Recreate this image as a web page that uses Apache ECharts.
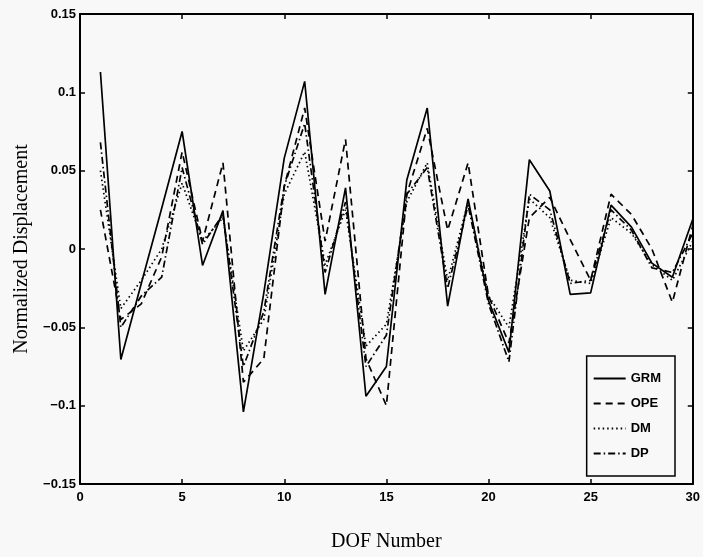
<!DOCTYPE html>
<html>
<head>
<meta charset="utf-8">
<script src="https://cdn.jsdelivr.net/npm/echarts@6/dist/echarts.min.js"></script>
<style>
html,body{margin:0;padding:0;background:#f8f8f8;}
#chart{width:703px;height:557px;}
</style>
</head>
<body>
<div id="chart"></div>
<script>
const dof = [1,2,3,4,5,6,7,8,9,10,11,12,13,14,15,16,17,18,19,20,21,22,23,24,25,26,27,28,29,30];
const grm = [0.113,-0.0705,-0.022,0.026,0.075,-0.0105,0.0245,-0.104,-0.028,0.058,0.107,-0.029,0.039,-0.094,-0.075,0.044,0.090,-0.0365,0.032,-0.033,-0.066,0.057,0.037,-0.029,-0.028,0.028,0.014,-0.009,-0.018,0.019];
const ope = [0.025,-0.045,-0.035,-0.005,0.062,0.005,0.055,-0.085,-0.07,0.04,0.09,0.005,0.070,-0.07,-0.1,0.035,0.077,0.012,0.055,-0.03,-0.06,0.02,0.033,0.006,-0.02,0.035,0.022,0.0,-0.034,0.015];
const dm  = [0.05,-0.038,-0.02,0.0,0.042,0.005,0.02,-0.065,-0.045,0.035,0.062,-0.01,0.025,-0.062,-0.048,0.03,0.055,-0.02,0.03,-0.03,-0.05,0.032,0.02,-0.02,-0.022,0.02,0.01,-0.01,-0.02,0.005];
const dp  = [0.068,-0.05,-0.03,-0.018,0.052,0.003,0.022,-0.075,-0.04,0.04,0.08,-0.015,0.03,-0.075,-0.055,0.035,0.052,-0.025,0.028,-0.035,-0.072,0.035,0.025,-0.022,-0.02,0.025,0.012,-0.012,-0.015,0.01];
const seriesNames = ['GRM','OPE','DM','DP'];
const xTickLabels = ['0','5','10','15','20','25','30'];
const yTickLabels = ['-0.15','-0.1','-0.05','0','0.05','0.1','0.15'];

const pair = arr => dof.map((d,i)=>[d,arr[i]]);
const tickFont = {fontFamily:'Liberation Sans, Arial, sans-serif', fontWeight:'bold', fontSize:13, color:'#000'};
const titleFont = {fontFamily:'Liberation Serif, Times New Roman, serif', fontSize:20, color:'#000'};
const axisLine = {show:true, onZero:false, lineStyle:{color:'#000', width:2}};
const axisTick = {show:true, inside:true, length:5, lineStyle:{color:'#000', width:1.5}};
const yFmt = v => { const i = Math.round((v+0.15)/0.05); return (yTickLabels[i]||'').replace('-','\u2212'); };
const xFmt = v => { const i = Math.round(v/5); return xTickLabels[i]||''; };

const styles = [
  {type:'solid'},
  {type:[7,5]},
  {type:[1.5,3]},
  {type:[7,3,1.5,3]}
];
const datasets = [grm, ope, dm, dp];

const chart = echarts.init(document.getElementById('chart'));
chart.setOption({
  backgroundColor:'#f8f8f8',
  animation:false,
  grid:{left:80, right:4, top:14, bottom:67},
  xAxis:[
    {type:'value', min:0, max:30, interval:5, position:'bottom',
     axisLine:axisLine, axisTick:axisTick, splitLine:{show:false},
     axisLabel:Object.assign({margin:7, formatter:xFmt}, tickFont),
     name:'DOF Number', nameLocation:'middle', nameGap:48, nameTextStyle:titleFont},
    {type:'value', min:0, max:30, interval:5, position:'top',
     axisLine:axisLine, axisTick:axisTick, splitLine:{show:false}, axisLabel:{show:false}}
  ],
  yAxis:[
    {type:'value', min:-0.15, max:0.15, interval:0.05, position:'left',
     axisLine:axisLine, axisTick:axisTick, splitLine:{show:false},
     axisLabel:Object.assign({margin:4, formatter:yFmt}, tickFont),
     name:'Normalized Displacement', nameLocation:'middle', nameGap:48, nameRotate:90, nameTextStyle:titleFont},
    {type:'value', min:-0.15, max:0.15, interval:0.05, position:'right',
     axisLine:axisLine, axisTick:axisTick, splitLine:{show:false}, axisLabel:{show:false}}
  ],
  legend:{
    orient:'vertical', right:28, top:356,
    data:seriesNames,
    itemWidth:32, itemHeight:10, itemGap:12,
    padding:[16,14,16,6],
    borderColor:'#000', borderWidth:1.5, backgroundColor:'#f8f8f8',
    itemStyle:{opacity:0},
    textStyle:{fontFamily:'Liberation Sans, Arial, sans-serif', fontWeight:'bold', fontSize:13, color:'#000'}
  },
  series: seriesNames.map((n,i)=>({
    name:n, type:'line', data:pair(datasets[i]), symbol:'none',
    lineStyle:{color:'#000', width:1.7, type:styles[i].type},
    itemStyle:{color:'#000'}
  }))
});
</script>
</body>
</html>
